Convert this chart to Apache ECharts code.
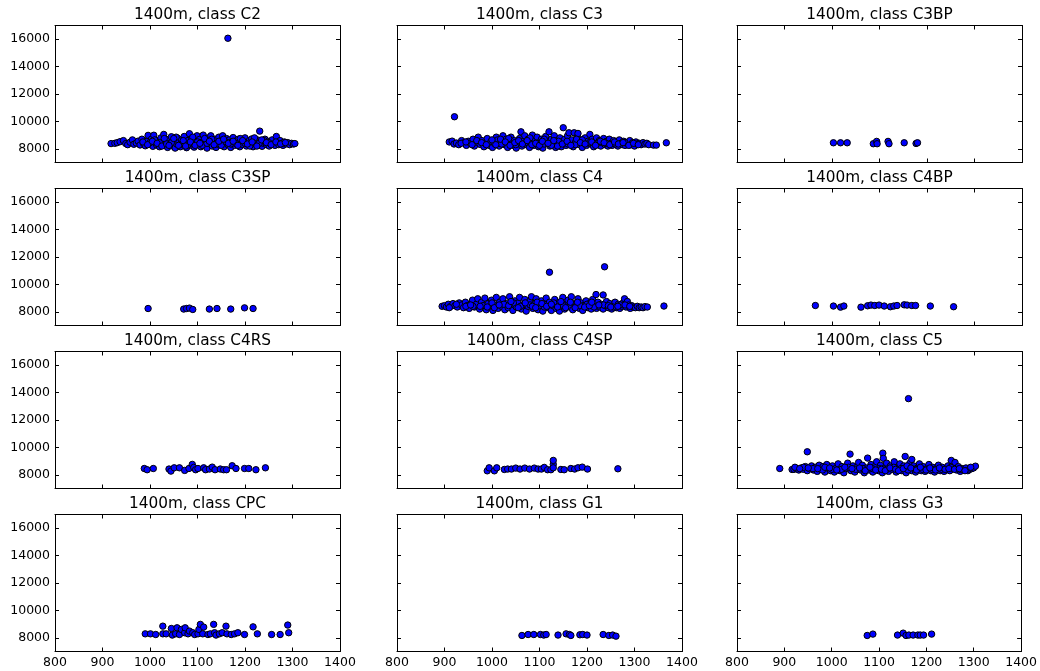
<!DOCTYPE html>
<html>
<head>
<meta charset="utf-8">
<script src="https://cdn.jsdelivr.net/npm/echarts@6/dist/echarts.min.js"></script>
<style>
  html, body { margin: 0; padding: 0; background: #fff; }
  #chart { width: 1040px; height: 671px; }
</style>
</head>
<body>
<div id="chart"></div>
<script>
// Race length 1400m: rating vs. time, one panel per class
const classNames = ['C2', 'C3', 'C3BP', 'C3SP', 'C4', 'C4BP', 'C4RS', 'C4SP', 'C5', 'CPC', 'G1', 'G3'];
const xTickValues = [800, 900, 1000, 1100, 1200, 1300, 1400];
const yTickValues = [8000, 10000, 12000, 14000, 16000];

const pointsC2 = [
  [918,8380],[926,8400],[931,8450],[937,8520],[944,8600],[949,8380],[953,8300],[958,8480],[963,8650],[966,8330],
  [971,8420],[975,8560],[979,8280],[983,8700],[986,8400],[990,8220],[993,8550],[996,8980],[999,8350],[1003,8700],
  [1006,8180],[1008,8990],[1011,8450],[1014,8280],[1017,8600],[1020,8150],[1023,8800],[1026,8380],[1029,9050],[1031,8250],
  [1034,8550],[1037,8100],[1040,8700],[1042,8420],[1045,8880],[1048,8200],[1050,8600],[1053,8050],[1056,8350],[1058,8780],
  [1061,8500],[1064,8150],[1066,8650],[1069,8300],[1072,8900],[1074,8450],[1077,8080],[1080,8600],[1083,9100],[1085,8250],
  [1088,8750],[1091,8400],[1093,8120],[1096,8550],[1099,8950],[1101,8300],[1104,8680],[1107,8150],[1110,8480],[1112,9000],
  [1115,8250],[1118,8620],[1120,8050],[1123,8800],[1126,8380],[1128,8950],[1131,8200],[1134,8550],[1137,8700],[1139,8100],
  [1142,8420],[1145,8850],[1147,8280],[1150,8600],[1153,8950],[1156,8150],[1158,8480],[1161,8750],[1164,16070],[1164,8300],
  [1167,8650],[1170,8100],[1172,8500],[1175,8820],[1178,8250],[1181,8580],[1183,8400],[1186,8700],[1189,8150],[1192,8500],
  [1195,8320],[1198,8650],[1200,8800],[1203,8200],[1206,8450],[1209,8600],[1211,8300],[1214,8720],[1217,8150],[1220,8480],
  [1223,8350],[1226,8650],[1228,8250],[1231,9290],[1233,8500],[1236,8180],[1239,8400],[1242,8700],[1245,8300],[1248,8550],
  [1251,8200],[1254,8450],[1257,8650],[1260,8350],[1263,8250],[1266,8900],[1268,8480],[1271,8300],[1274,8600],[1277,8400],
  [1280,8250],[1283,8500],[1286,8350],[1290,8450],[1294,8300],[1298,8400],[1302,8350],[1305,8380],
  [1000,8450],[1010,8650],[1020,8450],[1030,8750],[1045,8450],[1055,8850],[1065,8350],[1080,8300],[1090,8850],[1100,8500],
  [1110,8250],[1120,8400],[1130,8700],[1140,8350],[1150,8250],[1160,8500],[1170,8350],[1180,8400],[1190,8750],[1200,8400],
  [1210,8200],[1220,8800],[1230,8400],[1240,8600],[1250,8450],
  [985,8500],[995,8300],[1005,8550],[1015,8400],[1025,8200],[1035,8350],[1040,8250],[1050,8750],[1060,8250],[1070,8600],
  [1075,8200],[1085,8500],[1095,8250],[1105,8400],[1115,8750],[1125,8550],[1135,8300],[1145,8550],[1155,8700],[1165,8400],
  [1175,8550],[1185,8250],[1195,8600],[1205,8350],[1215,8500],[1225,8200],[1235,8650],[1245,8450],[1255,8300],[1265,8500],
  [1275,8350],[1285,8450]
];

const pointsC3 = [
  [921,10340],
  [910,8500],[916,8560],[920,8350],[925,8420],[930,8300],[936,8600],[941,8450],[946,8250],[950,8550],[955,8380],
  [960,8700],[963,8200],[967,8480],[971,8850],[975,8320],[979,8600],[983,8150],[987,8450],[990,8750],[994,8250],
  [998,8550],[1001,8100],[1005,8400],[1009,8850],[1012,8650],[1015,8200],[1019,8500],[1023,8950],[1026,8300],[1030,8700],
  [1033,8100],[1037,8450],[1040,8850],[1044,8250],[1047,8600],[1051,8050],[1054,8400],[1058,8750],[1061,9240],[1063,8200],
  [1066,8550],[1069,8950],[1072,8300],[1076,8700],[1079,8100],[1082,8450],[1085,9000],[1088,8250],[1091,8600],[1095,8850],
  [1098,8150],[1101,8450],[1104,8700],[1107,8050],[1110,8350],[1113,8900],[1116,8550],[1120,9240],[1122,8200],[1125,8700],
  [1128,8400],[1131,8950],[1134,8100],[1137,8600],[1140,8300],[1143,8800],[1146,8150],[1150,9540],[1150,8500],[1153,8700],
  [1156,8250],[1159,8950],[1162,9170],[1165,8400],[1168,8650],[1171,8150],[1173,9170],[1176,8500],[1179,8850],[1181,9120],
  [1184,8300],[1187,8650],[1190,8100],[1193,8450],[1196,8800],[1199,8250],[1202,8550],[1206,9050],[1208,8350],[1211,8700],
  [1214,8150],[1217,8500],[1220,8800],[1223,8300],[1226,8600],[1229,8200],[1232,8450],[1235,8750],[1238,8300],[1241,8550],
  [1244,8200],[1247,8700],[1250,8400],[1253,8250],[1256,8600],[1259,8350],[1262,8500],[1265,8200],[1268,8650],[1271,8400],
  [1274,8300],[1277,8550],[1280,8250],[1283,8450],[1287,8350],[1290,8600],[1293,8300],[1296,8450],[1300,8200],[1303,8500],
  [1306,8350],[1310,8400],[1314,8300],[1318,8450],[1322,8350],[1326,8400],[1330,8300],[1340,8270],[1346,8270],[1367,8440],
  [1000,8650],[1020,8350],[1035,8750],[1050,8300],[1070,8450],[1080,8800],[1095,8400],[1110,8700],[1125,8250],[1140,8550],
  [1160,8350],[1175,8300],[1190,8650],[1205,8450],[1220,8350],[1240,8400],[1260,8350],[1280,8450],
  [935,8400],[945,8500],[958,8300],[968,8600],[978,8450],[988,8300],[1008,8300],[1018,8700],[1028,8500],[1038,8250],
  [1048,8450],[1056,8600],[1064,8350],[1074,8600],[1084,8300],[1092,8400],[1100,8250],[1106,8550],[1118,8400],[1130,8600],
  [1138,8200],[1148,8350],[1158,8550],[1166,8250],[1178,8700],[1186,8450],[1196,8350],[1210,8500],[1218,8250],[1228,8550],
  [1236,8450],[1248,8300],[1258,8500],[1266,8350],[1276,8450],[1288,8250],[1298,8400],[1308,8300]
];

const pointsC3BP = [
  [1003,8440],[1018,8440],[1032,8440],[1087,8370],[1094,8540],[1095,8370],[1118,8540],[1120,8370],[1152,8440],[1177,8390],[1180,8440]
];

const pointsC3SP = [
  [996,8240],[1071,8200],[1077,8240],[1083,8270],[1090,8170],[1125,8200],[1141,8240],[1170,8200],[1199,8290],[1217,8240]
];

const pointsC4 = [
  [1121,10890],[1237,11285],[1362,8420],
  [895,8400],[900,8450],[904,8350],[908,8550],[913,8400],[918,8600],[922,8450],[927,8350],[931,8650],[936,8500],
  [940,8300],[944,8700],[948,8450],[952,8250],[956,8600],[959,8850],[963,8350],[967,8550],[970,8950],[974,8200],
  [978,8700],[981,8450],[985,9000],[988,8150],[992,8600],[995,8350],[999,8850],[1002,8100],[1006,8500],[1009,9050],
  [1013,8250],[1016,8700],[1020,8400],[1023,8950],[1027,8150],[1030,8600],[1034,8300],[1037,9100],[1041,8500],[1044,8100],
  [1048,8800],[1051,8350],[1055,8650],[1058,9050],[1062,8200],[1065,8500],[1069,8900],[1072,8050],[1076,8400],[1079,8750],
  [1083,9100],[1086,8250],[1090,8600],[1093,8950],[1097,8150],[1100,8450],[1104,8800],[1107,8050],[1111,8550],[1114,9000],
  [1118,8300],[1121,8700],[1125,8100],[1128,8450],[1132,8900],[1135,8250],[1139,8650],[1142,8050],[1146,8400],[1149,9050],
  [1153,8200],[1156,8550],[1160,8850],[1163,8350],[1167,9100],[1170,8150],[1174,8600],[1177,8400],[1181,8950],[1184,8250],
  [1188,8650],[1191,8100],[1195,8500],[1198,8800],[1202,8300],[1205,8600],[1209,8200],[1212,8900],[1216,8450],[1219,9260],
  [1220,8250],[1223,8700],[1227,8350],[1230,8550],[1234,9230],[1234,8200],[1238,8450],[1241,8750],[1245,8300],[1248,8600],
  [1252,8200],[1255,8450],[1259,8700],[1262,8300],[1266,8550],[1269,8250],[1273,8400],[1276,8650],[1279,8950],[1282,8350],
  [1285,8750],[1288,8500],[1291,8250],[1294,8450],[1298,8350],[1302,8300],[1306,8400],[1310,8300],[1314,8350],[1318,8300],
  [1322,8380],[1327,8350],
  [960,8400],[1000,8650],[1025,8550],[1045,8650],[1060,8400],[1080,8500],[1095,8700],[1110,8350],[1130,8650],[1150,8450],
  [1165,8700],[1185,8450],[1200,8550],[1215,8350],[1235,8500],[1255,8350],[1270,8500],
  [910,8300],[925,8550],[945,8400],[955,8500],[975,8400],[990,8350],[1005,8300],[1015,8500],[1035,8450],[1040,8750],
  [1055,8300],[1070,8650],[1085,8400],[1092,8300],[1105,8600],[1115,8400],[1125,8550],[1138,8350],[1145,8750],[1155,8300],
  [1175,8300],[1180,8700],[1195,8350],[1205,8450],[1210,8700],[1225,8500],[1245,8450],[1250,8350],[1265,8400],[1280,8500],
  [1290,8400]
];

const pointsC4BP = [
  [965,8460],[1003,8420],[1018,8340],[1025,8420],[1061,8340],[1075,8440],[1082,8490],[1090,8460],[1099,8490],[1110,8420],
  [1123,8370],[1130,8420],[1137,8460],[1152,8510],[1158,8490],[1168,8460],[1176,8460],[1207,8420],[1256,8370]
];

const pointsC4RS = [
  [988,8460],[994,8370],[1007,8460],[1040,8420],[1044,8270],[1051,8510],[1062,8510],[1073,8320],[1082,8460],[1089,8760],
  [1092,8540],[1096,8370],[1101,8460],[1113,8510],[1117,8370],[1125,8420],[1131,8560],[1137,8370],[1148,8420],[1155,8370],
  [1161,8370],[1173,8660],[1181,8460],[1199,8460],[1208,8460],[1223,8370],[1243,8510]
];

const pointsC4SP = [
  [990,8290],[994,8510],[1005,8290],[1010,8510],[1026,8390],[1033,8420],[1041,8420],[1050,8490],[1059,8420],[1069,8490],
  [1079,8420],[1089,8490],[1097,8420],[1104,8420],[1110,8540],[1117,8370],[1124,8370],[1129,8760],[1129,9050],[1129,8510],
  [1145,8390],[1152,8370],[1166,8460],[1174,8420],[1181,8510],[1190,8560],[1201,8420],[1265,8440]
];

const pointsC5 = [
  [1161,13560],[948,9680],[890,8460],
  [916,8390],[920,8400],[925,8450],[930,8350],[935,8500],[940,8400],[944,8600],[948,8300],[953,8450],[957,8650],
  [961,8350],[965,8550],[969,8250],[973,8700],[977,8400],[981,8600],[985,8200],[989,8750],[993,8450],[997,8300],
  [1001,8650],[1005,8200],[1009,8500],[1013,8800],[1017,8300],[1021,8600],[1025,8150],[1029,8450],[1033,8850],[1038,9510],
  [1040,8300],[1044,8650],[1048,8200],[1052,8550],[1056,8900],[1060,8350],[1064,8700],[1068,8150],[1072,8500],[1075,9220],
  [1078,8350],[1082,8750],[1086,8200],[1090,8600],[1094,8950],[1098,8300],[1102,8700],[1106,8150],[1107,9580],[1108,9200],
  [1111,8500],[1115,8850],[1119,8250],[1123,8650],[1127,8400],[1131,8950],[1135,8200],[1139,8550],[1143,8800],[1147,8300],
  [1151,8650],[1154,9340],[1156,8150],[1160,8500],[1164,8850],[1168,9120],[1168,8300],[1172,8650],[1176,8200],[1180,8500],
  [1184,8800],[1188,8300],[1192,8600],[1196,8250],[1200,8450],[1204,8750],[1208,8300],[1212,8550],[1216,8200],[1220,8450],
  [1224,8700],[1228,8300],[1232,8550],[1236,8250],[1240,8450],[1244,8650],[1248,8300],[1251,9050],[1255,8450],[1259,8900],
  [1262,8350],[1266,8600],[1270,8250],[1274,8450],[1278,8350],[1282,8500],[1286,8300],[1290,8400],[1294,8450],[1298,8500],
  [1302,8630],
  [940,8550],[960,8450],[980,8350],[1000,8400],[1020,8400],[1035,8550],[1050,8400],[1065,8450],[1085,8450],[1100,8450],
  [1115,8400],[1130,8550],[1145,8450],[1160,8350],[1175,8400],[1190,8400],[1210,8400],[1230,8400],[1250,8550],[1270,8400],
  [922,8550],[932,8450],[950,8500],[970,8450],[985,8550],[995,8500],[1010,8350],[1027,8550],[1042,8450],[1058,8500],
  [1070,8300],[1080,8550],[1092,8350],[1104,8400],[1112,8300],[1122,8500],[1134,8400],[1140,8300],[1150,8450],[1158,8650],
  [1166,8500],[1178,8350],[1186,8550],[1198,8350],[1206,8500],[1218,8350],[1226,8500],[1238,8400],[1246,8450],[1258,8400],
  [1268,8450],[1280,8300],[1292,8550]
];

const pointsCPC = [
  [990,8290],[1001,8290],[1012,8240],[1027,8850],[1027,8290],[1034,8290],[1045,8680],[1047,8200],[1054,8290],[1057,8730],
  [1062,8240],[1066,8610],[1073,8370],[1074,8730],[1080,8290],[1083,8490],[1090,8370],[1094,8240],[1101,8290],[1103,8610],
  [1106,8980],[1111,8290],[1113,8780],[1122,8240],[1127,8290],[1134,8980],[1136,8370],[1139,8200],[1146,8290],[1152,8370],
  [1160,8850],[1162,8290],[1171,8240],[1178,8290],[1185,8370],[1199,8240],[1217,8800],[1226,8290],[1256,8240],[1274,8240],
  [1290,8930],[1292,8370]
];

const pointsG1 = [
  [1063,8170],[1076,8240],[1088,8240],[1102,8240],[1109,8200],[1114,8240],[1139,8200],[1156,8290],[1163,8240],[1166,8170],
  [1185,8220],[1191,8240],[1200,8200],[1234,8240],[1246,8170],[1254,8200],[1261,8120]
];

const pointsG3 = [
  [1075,8170],[1087,8270],[1139,8200],[1151,8340],[1157,8170],[1163,8200],[1172,8200],[1182,8200],[1187,8200],[1194,8200],[1211,8270]
];

const panelPoints = [pointsC2, pointsC3, pointsC3BP, pointsC3SP, pointsC4, pointsC4BP,
                     pointsC4RS, pointsC4SP, pointsC5, pointsCPC, pointsG1, pointsG3];

// 4 x 3 panel layout (pixels)
const colLeft = [55, 397, 737];
const colWidth = 285;
const rowTop = [25.5, 188.5, 351.5, 514.5];
const rowHeight = 137;
const font = "'DejaVu Sans', sans-serif";
const plainNumber = v => String(v);

const grids = [], xAxes = [], yAxes = [], series = [], texts = [];

classNames.forEach((cls, i) => {
  const r = Math.floor(i / 3), c = i % 3;
  const left = colLeft[c], top = rowTop[r];
  grids.push({ left, top, width: colWidth, height: rowHeight, containLabel: false });

  const spine = { show: true, onZero: false, lineStyle: { color: '#000', width: 1 } };
  const tick = { show: true, inside: true, length: 4, lineStyle: { color: '#000', width: 1 } };

  // bottom and top x axes
  xAxes.push({
    gridIndex: i, type: 'value', position: 'bottom', min: 800, max: 1400, interval: 100,
    axisLine: spine, axisTick: tick, splitLine: { show: false },
    axisLabel: {
      show: r === 3, margin: 5, color: '#000', fontSize: 12.5, fontFamily: font,
      showMinLabel: true, showMaxLabel: true, formatter: plainNumber,
      customValues: xTickValues
    }
  });
  xAxes.push({
    gridIndex: i, type: 'value', position: 'top', min: 800, max: 1400, interval: 100,
    axisLine: spine, axisTick: tick, splitLine: { show: false }, axisLabel: { show: false }
  });

  // left and right y axes
  yAxes.push({
    gridIndex: i, type: 'value', position: 'left', min: 7000, max: 17000,
    axisLine: spine,
    axisTick: Object.assign({ customValues: yTickValues }, tick),
    splitLine: { show: false },
    axisLabel: {
      show: c === 0, margin: 5, color: '#000', fontSize: 12.5, fontFamily: font,
      formatter: plainNumber, customValues: yTickValues
    }
  });
  yAxes.push({
    gridIndex: i, type: 'value', position: 'right', min: 7000, max: 17000,
    axisLine: spine,
    axisTick: Object.assign({ customValues: yTickValues }, tick),
    splitLine: { show: false }, axisLabel: { show: false }
  });

  series.push({
    type: 'scatter', xAxisIndex: 2 * i, yAxisIndex: 2 * i,
    data: panelPoints[i], symbol: 'circle', symbolSize: 6.4,
    itemStyle: { color: '#0000ff', borderColor: '#000', borderWidth: 1, opacity: 1 },
    emphasis: { disabled: true }, silent: true
  });

  texts.push({
    type: 'text', x: left + colWidth / 2, y: top - 10.5,
    style: {
      text: '1400m, class ' + cls, fill: '#000', font: '15.3px ' + font,
      align: 'center', verticalAlign: 'middle'
    }
  });
});

const chart = echarts.init(document.getElementById('chart'), null, { renderer: 'canvas' });
chart.setOption({
  animation: false,
  backgroundColor: '#fff',
  grid: grids,
  xAxis: xAxes,
  yAxis: yAxes,
  series: series,
  graphic: { elements: texts }
});
</script>
</body>
</html>
